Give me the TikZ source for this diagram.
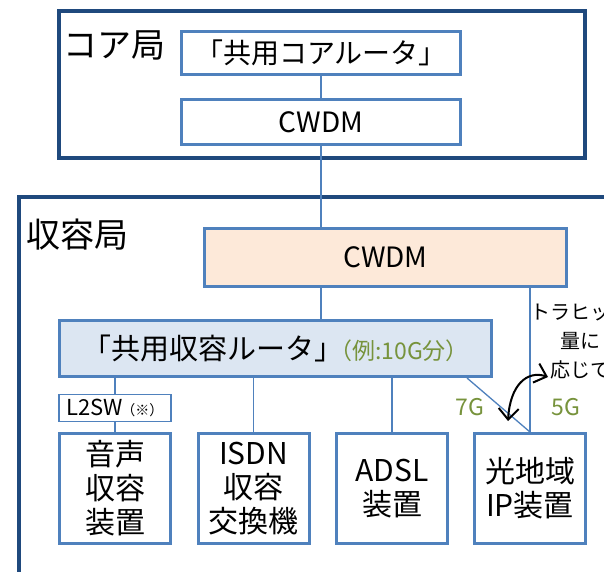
\documentclass[tikz,border=0pt]{standalone}
\usepackage{fontspec}
\setmainfont{Noto Sans CJK JP}
\usetikzlibrary{arrows.meta,calc}
\definecolor{bblue}{HTML}{4F81BD}
\definecolor{navy}{HTML}{1F497D}
\definecolor{peach}{HTML}{FDE9D9}
\definecolor{lblue}{HTML}{DCE6F2}
\definecolor{ogreen}{HTML}{77933C}
\begin{document}
\begin{tikzpicture}[x=1pt,y=-1pt,
  station/.style={draw=navy,line width=3.5pt,inner sep=0pt},
  stlabel/.style={anchor=west,inner sep=0pt,font=\fontsize{34}{38}\selectfont},
  unit/.style={draw=bblue,line width=3pt,inner sep=0pt,align=center,font=\fontsize{28}{34}\selectfont},
  bigunit/.style={unit,font=\fontsize{30}{34}\selectfont},
  thinunit/.style={draw=bblue,line width=1.3pt,inner sep=0pt,font=\fontsize{22}{26}\selectfont},
  link/.style={draw=bblue,line width=1.3pt},
  gtext/.style={text=ogreen,inner sep=0pt,font=\fontsize{23}{26}\selectfont},
  note/.style={inner sep=0pt,align=center,font=\fontsize{20}{29}\selectfont},
  swing/.style={draw=black,line width=2pt,{Straight Barb[length=11pt,width=20pt]}-{Straight Barb[length=11pt,width=20pt]}}]
\useasboundingbox (0,0) rectangle (604,571);
\clip (0,0) rectangle (604,571);
\fill[white] (0,0) rectangle (604,571);
% core station
\node[station,minimum width=526,minimum height=147] (core) at (322,84.5) {};
\node[stlabel] (corelbl) at (63,45) {コア局};
\node[unit,minimum width=279,minimum height=43] (crouter) at (321,53) {「共用コアルータ」};
\node[unit,minimum width=279,minimum height=45] (ccwdm) at (321,122) {CWDM};
% access station
\node[station,minimum width=640,minimum height=420] (acc) at (339,407) {};
\node[stlabel] (acclbl) at (26,235) {収容局};
\node[unit,fill=peach,minimum width=362,minimum height=58] (cwdm) at (385.5,257.5) {CWDM};
\node[unit,fill=lblue,minimum width=432,minimum height=56,font=\fontsize{29}{34}\selectfont] (router) at (275.5,348.5)
  {「共用収容ルータ」\kern-14pt\textcolor{ogreen}{\fontsize{23}{26}\selectfont （例:10G分）}};
\node[thinunit,minimum width=112,minimum height=27] (l2sw) at (115,408)
  {L2SW\kern-2pt{\fontsize{14}{16}\selectfont（※）}};
\node[bigunit,minimum width=111,minimum height=110] (voice) at (115,488.5) {音声\\収容\\装置};
\node[bigunit,minimum width=111,minimum height=110] (isdn) at (253.5,488.5) {ISDN\\収容\\交換機};
\node[bigunit,minimum width=111,minimum height=110] (adsl) at (392,488.5) {ADSL\\装置};
\node[bigunit,minimum width=111,minimum height=110] (hikari) at (530,488.5) {光地域\\IP装置};
% links
\draw[link] (crouter) -- (ccwdm);
\draw[link] (ccwdm.south) -- (ccwdm.south |- cwdm.north);
\draw[link] (ccwdm.south |- cwdm.south) -- (ccwdm.south |- router.north);
\draw[link] (cwdm.south -| hikari.north) -- (hikari.north);
\draw[link] (router.south -| l2sw.north) -- (l2sw.north);
\draw[link] (l2sw) -- (voice);
\draw[link] (router.south -| isdn.north) -- (isdn.north);
\draw[link] (router.south -| adsl.north) -- (adsl.north);
\coordinate (diag) at ($(router.south east)+(-26,0)$);
\draw[link] (diag) -- (hikari.north);
% labels
\node[gtext] (g7) at (470,407) {7G};
\node[gtext] (g5) at (566,407) {5G};
\node[note] (traffic) at (580,341) {トラヒック\\量に\\応じて};
\coordinate (arrR) at (548,377);
\coordinate (arrD) at (508,421);
\draw[swing] (arrR) .. controls (527,370) and (510,385) .. (arrD);
\end{tikzpicture}
\end{document}
